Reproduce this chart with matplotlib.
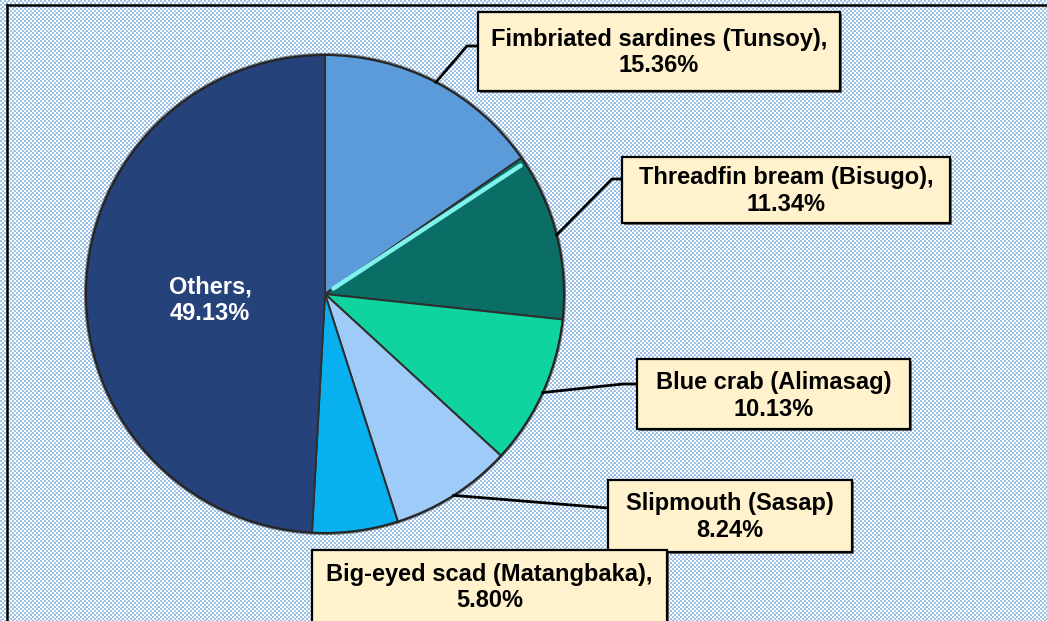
import numpy as np
import matplotlib
matplotlib.use("Agg")
import matplotlib.pyplot as plt
from matplotlib.patches import Rectangle, Circle
from matplotlib.colors import to_rgb

# Catch share by species
species = [
    "Fimbriated sardines (Tunsoy)",
    "Threadfin bream (Bisugo)",
    "Blue crab (Alimasag)",
    "Slipmouth (Sasap)",
    "Big-eyed scad (Matangbaka)",
    "Others",
]
shares = [15.36, 11.34, 10.13, 8.24, 5.80, 49.13]
labels = [
    "Fimbriated sardines (Tunsoy),\n15.36%",
    "Threadfin bream (Bisugo),\n11.34%",
    "Blue crab (Alimasag)\n10.13%",
    "Slipmouth (Sasap)\n8.24%",
    "Big-eyed scad (Matangbaka),\n5.80%",
    "Others,\n49.13%",
]
colors = ["#5b9bd9", "#0a6e66", "#10d4a0", "#9ecbf7", "#08b0f0", "#26427a"]

W, H = 1047, 621


def Y(y):
    # image rows count from the top
    return H - y


def graph_plot():
    plt.rcParams["font.family"] = ["Liberation Sans", "DejaVu Sans"]
    fig = plt.figure(figsize=(W / 100, H / 100), dpi=100)
    ax = fig.add_axes([0, 0, 1, 1])

    # checkered backdrop
    yy, xx = np.mgrid[0:H, 0:W]
    blue = ((xx // 2 + yy // 2) % 2 == 0) | ((xx % 6 == 1) & (yy % 6 == 1))
    bg = np.ones((H, W, 3))
    bg[blue] = to_rgb("#9cc2e8")
    ax.imshow(bg, extent=(0, W, 0, H), origin="upper", interpolation="nearest", zorder=0)

    cx, cy, r = 325, Y(294), 239
    wedges, _ = ax.pie(
        shares,
        colors=colors,
        startangle=90,
        counterclock=False,
        center=(cx, cy),
        radius=r,
        wedgeprops={"edgecolor": "#2e2e2e", "linewidth": 1.4, "zorder": 2},
    )
    # soft dark rim round the pie
    ax.add_patch(Circle((cx, cy), r + 0.5, facecolor="none", edgecolor="#1c1c1c",
                        linewidth=2.2, alpha=0.55, zorder=3))

    # light bevel along the leading edge of the threadfin slice
    th = np.deg2rad(wedges[1].theta2 - 1.4)
    ax.plot([cx + 10 * np.cos(th), cx + (r - 5) * np.cos(th)],
            [cy + 10 * np.sin(th), cy + (r - 5) * np.sin(th)],
            color="#7ff2ee", lw=3.2, solid_capstyle="round", zorder=3)

    # label boxes: (left, top, right, bottom) in image pixels, elbow points
    boxes = [
        (478, 12, 840, 91),
        (622, 157, 950, 223),
        (637, 359, 910, 429),
        (608, 480, 852, 552),
        (312, 550, 667, 645),
    ]
    elbows = [
        [(478, 46), (467, 46)],
        [(622, 179), (612, 179)],
        [(637, 384), (623, 384)],
        [(608, 508)],
        None,
    ]
    text_y = [52.5, 191, 396, 517, 587.5]

    for i, (l, t, rr, b) in enumerate(boxes):
        ax.add_patch(Rectangle((l + 2, Y(b) - 2), rr - l, b - t, facecolor="#6b6b6b",
                               edgecolor="none", zorder=4))
        ax.add_patch(Rectangle((l, Y(b)), rr - l, b - t, facecolor="#fff2cc",
                               edgecolor="black", linewidth=1.6, zorder=5))
        ax.text((l + rr) / 2, Y(text_y[i]), labels[i], ha="center", va="center",
                fontsize=17, fontweight="bold", color="black", linespacing=1.2, zorder=6)
        if elbows[i]:
            w = wedges[i]
            mid = np.deg2rad((w.theta1 + w.theta2) / 2)
            px, py = cx + r * np.cos(mid), cy + r * np.sin(mid)
            xs = [p[0] for p in elbows[i]] + [px]
            ys = [Y(p[1]) for p in elbows[i]] + [py]
            ax.plot(xs, ys, color="black", lw=2.0, zorder=4)

    ax.text(210, Y(300), labels[5], ha="center", va="center", fontsize=17,
            fontweight="bold", color="white", linespacing=1.2, zorder=6)

    # outer frame (only top and left edges fall inside the picture)
    ax.plot([7, W + 5], [Y(5), Y(5)], color="black", lw=1.8, zorder=7)
    ax.plot([7, 7], [Y(5), -5], color="black", lw=1.8, zorder=7)

    ax.set_xlim(0, W)
    ax.set_ylim(0, H)
    ax.set_aspect("auto")
    ax.axis("off")
    fig.savefig("out.png", dpi=100)


if __name__ == "__main__":
    graph_plot()
